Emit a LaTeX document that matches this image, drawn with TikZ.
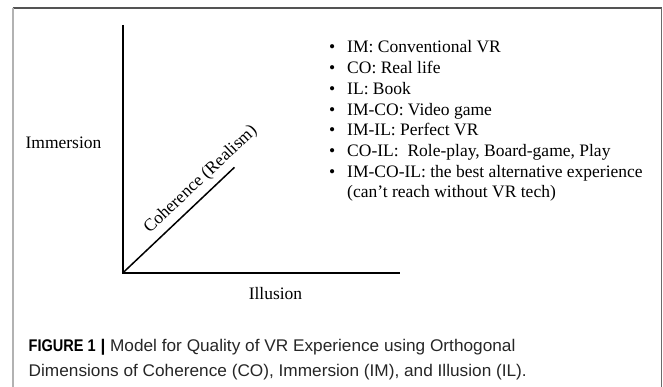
\documentclass[tikz,border=0pt]{standalone}
\usepackage{fontspec}
\setmainfont{Liberation Serif}
\setsansfont{Liberation Sans}
\newfontfamily\capfont{Liberation Sans}[FakeStretch=1.02]
\newfontfamily\capboldfont{Liberation Sans}[FakeStretch=0.86]
\usepackage{array}

\begin{document}
\begin{tikzpicture}[x=1pt,y=-1pt,
    axis/.style={line width=1.7pt,black},
    axislabel/.style={font=\fontsize{17.5}{20.7}\selectfont,inner sep=0pt},
    frameline/.style={line width=1.4pt}]
  \useasboundingbox (0,0) rectangle (663,387);
  % frame of the figure
  \coordinate (tl) at (12.7,8);
  \coordinate (tr) at (661.7,8);
  \coordinate (bl) at (12.7,387);
  \coordinate (br) at (661.7,387);
  \draw[frameline,black!67] (tl) -- (tr);
  \draw[frameline,black!30,line width=2pt] (tl) -- (bl);
  \draw[frameline,black!58] (tr) -- (br);
  % the three dimensions
  \coordinate (origin) at (122.7,273);
  \coordinate (imtop) at (122.7,25);
  \coordinate (ilend) at (400,273);
  \coordinate (coend) at (234.5,167.3);
  \draw[axis] (imtop) -- (origin) -- (ilend);
  \draw[axis,line width=1.5pt] (origin) -- (coend);
  \node[axislabel] (immersion) at (63.5,143) {Immersion};
  \node[axislabel] (illusion) at (275.5,294) {Illusion};
  \node[axislabel,rotate=43.3] (coherence) at (200.8,179.5) {Coherence (Realism)};
  % examples for each combination
  \node[axislabel,anchor=base west] (items) at (329,53) {%
    \begin{tabular}[t]{@{}l@{\hspace{11.9pt}}l@{}}
      \textbullet & IM: Conventional VR\\
      \textbullet & CO: Real life\\
      \textbullet & IL: Book\\
      \textbullet & IM-CO: Video game\\
      \textbullet & IM-IL: Perfect VR\\
      \textbullet & CO-IL: \ Role-play, Board-game, Play\\
      \textbullet & IM-CO-IL: the best alternative experience\\
                  & (can't reach without VR tech)
    \end{tabular}};
  % caption
  \node[anchor=base west,inner sep=0pt,font=\capfont\fontsize{16.9}{25.5}\selectfont,text=black!85] (caption) at (28.5,351) {%
    \begin{tabular}[t]{@{}l@{}}
      \textcolor{black}{\capboldfont\bfseries FIGURE 1} \textcolor{black}{\bfseries|} Model for Quality of VR Experience using Orthogonal\\
      Dimensions of Coherence (CO), Immersion (IM), and Illusion (IL).
    \end{tabular}};
\end{tikzpicture}
\end{document}
